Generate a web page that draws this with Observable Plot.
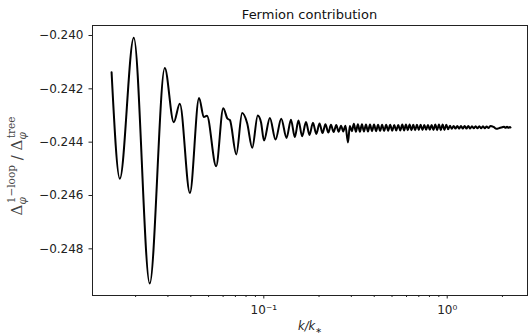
<!DOCTYPE html>
<html><head><meta charset="utf-8">
<script src="https://cdn.jsdelivr.net/npm/d3@7"></script>
<script src="https://cdn.jsdelivr.net/npm/@observablehq/plot@0.6"></script>
<style>body{margin:0;background:#fff}</style>
</head><body><div id="chart"></div>
<script>
// log10(k/k*) of each read point (extrema and shoulders of the curve)
const logK = [
  -1.830, -1.785, -1.709, -1.622, -1.540, -1.491, -1.458, -1.403, -1.353, -1.327,
  -1.310, -1.260, -1.221, -1.198, -1.185, -1.150, -1.118, -1.091, -1.063, -1.033,
  -1.015, -0.999, -0.967, -0.936, -0.905, -0.876, -0.852, -0.831, -0.811, -0.791,
  -0.770, -0.751, -0.732, -0.714, -0.696, -0.680, -0.664, -0.648, -0.634, -0.619,
  -0.605, -0.592, -0.579, -0.567, -0.555, -0.541, -0.531, -0.520, -0.509,
  -0.498, -0.487, -0.476, -0.465, -0.454, -0.443, -0.432, -0.421, -0.410, -0.399,
  -0.388, -0.377, -0.366, -0.355, -0.344, -0.333, -0.322, -0.311, -0.300, -0.289,
  -0.278, -0.267, -0.256,
  -0.245, -0.235, -0.225, -0.215, -0.205, -0.195, -0.185, -0.175, -0.165, -0.155,
  -0.145, -0.135, -0.125, -0.115, -0.105, -0.095, -0.085, -0.075, -0.065, -0.055,
  -0.045, -0.035, -0.025, -0.015, -0.005, 0.005, 0.015, 0.025, 0.035, 0.045,
  0.055, 0.065, 0.075, 0.085, 0.095, 0.105, 0.115, 0.125, 0.135, 0.145,
  0.155, 0.165, 0.175, 0.185, 0.195, 0.205, 0.215, 0.225,
  0.235, 0.255, 0.268, 0.285, 0.300, 0.310, 0.318, 0.326, 0.334, 0.342, 0.345
];
// Δφ(1-loop)/Δφ(tree) at those points
const ratio = [
  -0.24138, -0.24537, -0.24008, -0.24930, -0.24122, -0.24325, -0.24256, -0.24591, -0.24234, -0.24306,
  -0.24301, -0.24490, -0.24273, -0.24312, -0.24317, -0.24446, -0.24291, -0.24328, -0.24421, -0.24300,
  -0.24326, -0.24394, -0.24309, -0.24390, -0.24312, -0.24384, -0.24316, -0.24381, -0.24319, -0.24378,
  -0.24324, -0.24373, -0.24327, -0.24369, -0.24330, -0.24366, -0.24333, -0.24364, -0.24335, -0.24362,
  -0.24336, -0.24361, -0.24338, -0.24360, -0.24338, -0.24401, -0.24339, -0.24359, -0.24331,
  -0.24361, -0.24333, -0.24361, -0.24333, -0.24360, -0.24334, -0.24360, -0.24334, -0.24359, -0.24334,
  -0.24359, -0.24335, -0.24358, -0.24335, -0.24358, -0.24335, -0.24357, -0.24335, -0.24357, -0.24336,
  -0.24356, -0.24336, -0.24356,
  -0.24334, -0.24356, -0.24334, -0.24355, -0.24334, -0.24355, -0.24335, -0.24355, -0.24335, -0.24354,
  -0.24335, -0.24354, -0.24336, -0.24353, -0.24336, -0.24353, -0.24336, -0.24354, -0.24334, -0.24355,
  -0.24334, -0.24355, -0.24334, -0.24354, -0.24335, -0.24352, -0.24338, -0.24350, -0.24339, -0.24349,
  -0.24339, -0.24349, -0.24339, -0.24349, -0.24339, -0.24349, -0.24339, -0.24349, -0.24340, -0.24348,
  -0.24340, -0.24348, -0.24340, -0.24348, -0.24340, -0.24348, -0.24341, -0.24347,
  -0.24339, -0.24344, -0.24350, -0.24347, -0.24344, -0.24342, -0.24346, -0.24342, -0.24346, -0.24343, -0.24345
];
const yTicks = [-0.240, -0.242, -0.244, -0.246, -0.248];
const xMajorTicks = [0.1, 1];
const xMajorLabels = ["10\u207B\u00B9", "10\u2070"];
const xMinorTicks = [0.02, 0.03, 0.04, 0.05, 0.06, 0.07, 0.08, 0.09, 0.2, 0.3, 0.4, 0.5, 0.6, 0.7, 0.8, 0.9, 2];
const titleText = "Fermion contribution";

const n = Math.min(logK.length, ratio.length);
const data = [];
for (let i = 0; i < n; i++) data.push({k: Math.pow(10, logK[i]), v: ratio[i]});

const plot = Plot.plot({
  width: 528, height: 334,
  marginLeft: 92, marginRight: 1, marginTop: 25, marginBottom: 39,
  style: {fontFamily: "DejaVu Sans", fontSize: "12px", color: "#222", background: "#fff"},
  x: {type: "log", domain: [0.01164, 2.74]},
  y: {domain: [-0.24975, -0.239625]},
  marks: [
    Plot.axisY(yTicks, {tickSize: 3.5, tickPadding: 5.5, tickFormat: d3.format(".3f"), label: null}),
    Plot.axisX(xMinorTicks, {tickSize: 2, tickFormat: () => "", label: null}),
    Plot.axisX(xMajorTicks, {tickSize: 3.5, tickPadding: 6, tickFormat: d => xMajorLabels[xMajorTicks.indexOf(d)], label: null}),
    Plot.line(data, {x: "k", y: "v", stroke: "#000", strokeWidth: 2, curve: "monotone-x"}),
    Plot.frame({stroke: "#222", strokeWidth: 1})
  ]
});

const svg = d3.select(plot);
svg.append("text")
  .attr("x", 309.5).attr("y", 19)
  .attr("text-anchor", "middle")
  .attr("font-family", "DejaVu Sans").attr("font-size", 13).attr("fill", "#111")
  .text(titleText);

// x label: k/k_*
const xl = svg.append("text")
  .attr("x", 310).attr("y", 330)
  .attr("text-anchor", "middle")
  .attr("font-family", "DejaVu Sans").attr("font-size", 11.5).attr("font-style", "italic").attr("fill", "#222");
xl.append("tspan").text("k/k");
xl.append("tspan").attr("dy", 3).attr("font-size", 8).attr("font-style", "normal").text("\u2217");

// y label: Δφ^{1−loop} / Δφ^{tree}
const yl = svg.append("text")
  .attr("transform", "translate(22,166) rotate(-90)")
  .attr("text-anchor", "middle")
  .attr("font-family", "DejaVu Serif").attr("font-size", 15).attr("fill", "#444");
yl.append("tspan").text("\u0394");
yl.append("tspan").attr("dy", 4).attr("font-size", 10.5).attr("font-style", "italic").text("\u03C6");
yl.append("tspan").attr("dx", -6).attr("dy", -11).attr("font-size", 10.5).text("1\u2212loop");
yl.append("tspan").attr("dy", 7).text(" / \u0394");
yl.append("tspan").attr("dy", 4).attr("font-size", 10.5).attr("font-style", "italic").text("\u03C6");
yl.append("tspan").attr("dx", -6).attr("dy", -11).attr("font-size", 10.5).text("tree");

document.getElementById("chart").appendChild(plot);
</script>
</body></html>
